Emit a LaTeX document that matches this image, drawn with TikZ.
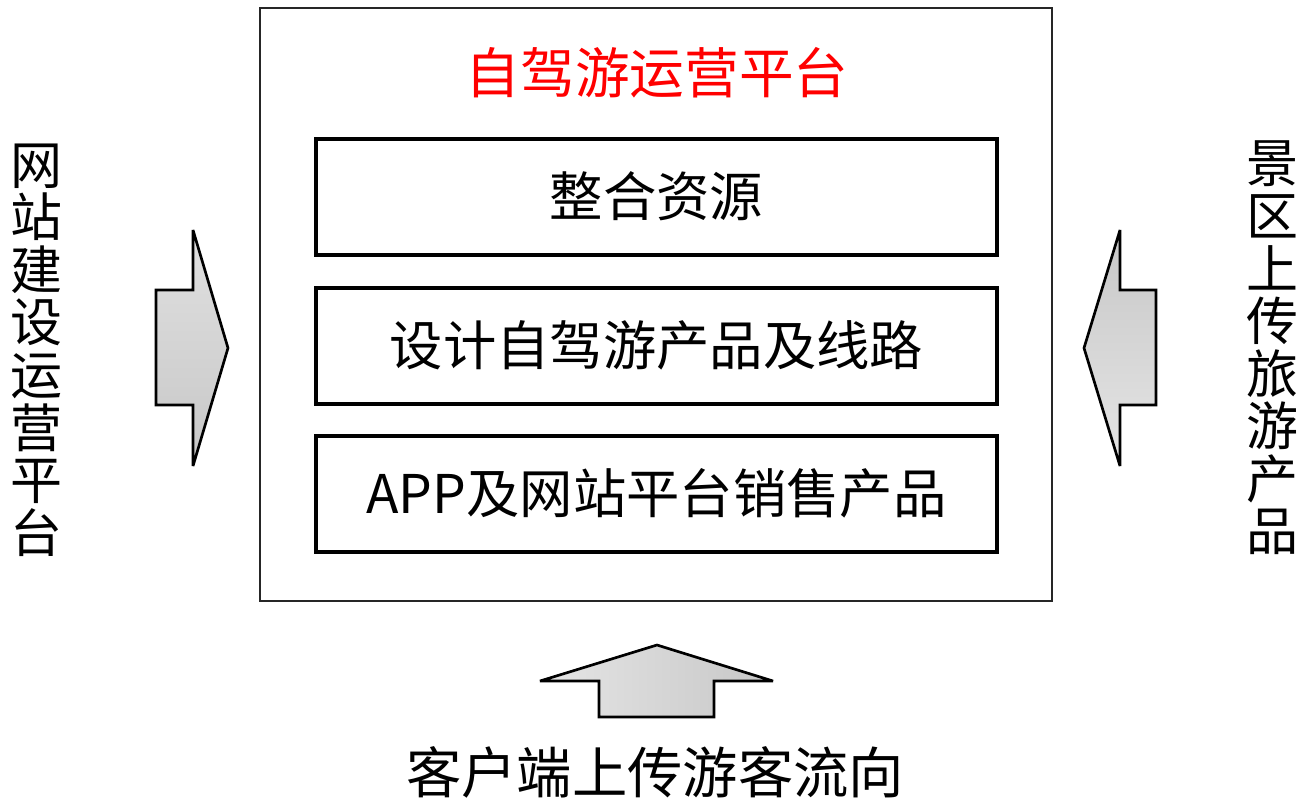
\documentclass[tikz,border=0pt]{standalone}
\usepackage{fontspec}
\newfontfamily\cjk{Noto Sans CJK SC}
\begin{document}
\begin{tikzpicture}[x=0.75pt,y=-0.75pt,
  frame/.style={draw=black!85,line width=1pt},
  item/.style={draw=black,line width=3pt,minimum width=681*0.75pt,minimum height=116*0.75pt,inner sep=0pt,font=\cjk\fontsize{40}{46}\selectfont},
  bigarrow/.style={draw=black,line width=2pt,line join=miter,miter limit=3},
  vtext/.style={align=center,inner sep=0pt,font=\cjk\fontsize{39}{39.4}\selectfont}]
\useasboundingbox (0,0) rectangle (1302,800);
% outer frame
\draw[frame] (260,8) rectangle (1052,601);
\node[text=red,font=\cjk\fontsize{41}{48}\selectfont,inner sep=0pt] (title) at (657,73) {自驾游运营平台};
\node[item] (b1) at (656.5,196.5) {整合资源};
\node[item] (b2) at (656.5,345.5) {设计自驾游产品及线路};
\node[item] (b3) at (656.5,493.5) {APP及网站平台销售产品};
% left arrow
\draw[bigarrow,top color=black!12,bottom color=black!22]
  (156,290) -- (193,290) -- (193,230) -- (228,348) -- (193,466) -- (193,405) -- (156,405) -- cycle;
% right arrow
\draw[bigarrow,top color=black!22,bottom color=black!10]
  (1156,290) -- (1120,290) -- (1120,230) -- (1084,348) -- (1120,466) -- (1120,405) -- (1156,405) -- cycle;
% bottom arrow
\draw[bigarrow,left color=black!10,right color=black!22]
  (599,717) -- (599,681) -- (540,681) -- (657,645) -- (773,681) -- (714,681) -- (714,717) -- cycle;
% side texts
\node[vtext] (lt) at (37,350) {网\\站\\建\\设\\运\\营\\平\\台};
\node[vtext] (rt) at (1272,348) {景\\区\\上\\传\\旅\\游\\产\\品};
\node[inner sep=0pt,font=\cjk\fontsize{41.5}{48}\selectfont] (bt) at (655,772) {客户端上传游客流向};
\end{tikzpicture}
\end{document}
